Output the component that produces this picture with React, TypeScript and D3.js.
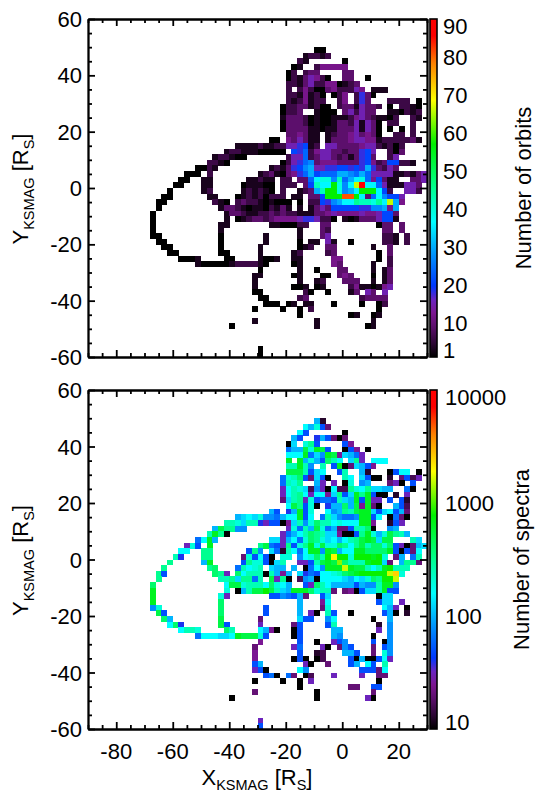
import { useEffect, useRef } from 'react'
import * as d3 from 'd3'

// one string per map row, top (Y=+60) to bottom. "col:codes", one base-36 code per 2 R_S bin
const orbitRows = [
  "", "", "", "", "",
  "40:00",
  "38:12212",
  "37:21 45:0",
  "36:01 40:244444",
  "35:02 38:233 45:33",
  "35:02135420 45:33 49:0",
  "35:2213522440123",
  "35:2 37:242003422254 50:111",
  "35:2214120 43:024 47:263 50:0",
  "35:2124122 44:24 47:263 53:2222 58:0",
  "34:022331200 44:23315332 53:0 55:2210",
  "34:0223 40:1000 45:352533 53:110212",
  "34:133320100111245321102 57:21",
  "34:033320100133251530 53:22 57:2",
  "34:033331101133351530 53:0 55:0 57:2",
  "35:334311 42:1233453430 54:22 57:2",
  "32:00 35:435311 42:13334554412222231",
  "26:111121122556712 42:55333345521202",
  "24:12211100000 36:768245533233675 53:203",
  "22:122100 35:2558235532313673 53:25",
  "21:2210 34:025689344433336742377221",
  "19:0021 32:1213679a556677676a63253",
  "17:000 21:2 30:123103468a7888aa98a85555112135",
  "16:00 20:11 28:11211 34:22 37:338cdd9e8acd847311 57:335",
  "15:00 20:11 27:011100 34:222 38:37eccjd9cmtcc85111553",
  "14:0 20:12 27:121210 34:2 37:123aejjd9acjjjc72 56:552",
  "13:00 21:11 26:012120222 36:11 39:337jjjrrjc38c9775",
  "12:00 22:210 26:2322101000 37:0 39:22769accfeedfcma4",
  "12:0 23:1332101102131 37:1 39:1353777776699a4a",
  "11:0 24:1332112232322111334544445445773",
  "11:0 24:1 26:012332344445665220 45:1013335771",
  "11:0 23:11 32:1100022 41:33 51:033 55:3",
  "11:0 23:1 37:1 41:32 52:33 55:3",
  "11:00 23:0 31:1 37:1 41:35 52:221 56:2",
  "12:00 23:0 31:1 37:0 39:11 42:51 46:0 52:221 56:2",
  "13:00 23:0 30:1 37:012 42:33 50:1 53:3",
  "14:00 23:00 30:1 36:12 42:23 51:0 53:3",
  "16:0001 24:00 30:1001 36:11 43:44 51:0 53:2",
  "19:1000001222210 36:01 43:43 50:1 53:2",
  "30:0 37:1 40:0 44:33 50:1 52:13",
  "29:11 36:01 41:00 44:343 50:0 52:13",
  "29:1 37:1 40:12 45:333 50:1 52:13",
  "29:1 36:001 40:01 46:24110145",
  "29:00 38:20 42:0 46:13 49:53 52:5",
  "30:00 37:23 48:23333",
  "31:000 35:01 38:11 43:0 48:0 51:02",
  "29:0 34:0 37:0 39:2 51:0",
  "37:0 46:01 50:01",
  "29:1 40:1 50:1",
  "25:0 40:1 49:01",
  "", "", "",
  "30:0",
  "30:0",
]

const spectraRows = [
  "", "", "", "", "",
  "40:a1",
  "38:cad73",
  "37:c7 45:0",
  "36:a7 40:6a7303",
  "35:0b 38:df7 45:74",
  "35:8aahdih7 45:074 49:0",
  "35:ccci8b9ih4ba85",
  "35:i 37:iada7gec 46:bf5 50:ccc",
  "35:eeie9 41:e 43:7i03ba74",
  "35:hhhe7bc 44:7e 48:a1 53:07cc 58:0",
  "34:8deg73b70 45:ec 48:b700 53:1 55:3725",
  "34:8edf 40:a5 43:5 45:0d 48:9a 53:350 57:7",
  "34:5cedb2950c22fdcfbbaa 56:80",
  "34:5cefc5cc4bf7bifi700 54:1 56:5",
  "34:3bef5d7887ebai7i55 53:7 55:71",
  "35:chf7d0 42:6aagah4i30 54:a72",
  "32:a7 35:6ai7d 42:c9afehiib7bc7a3",
  "26:abcbd998acci7c 41:8eb9889ii7c 53:0830",
  "24:eedbee657704be9dgeecdcccii4 53:175",
  "22:ahff99 35:5d8eahd8a337eeg0 53:9a",
  "21:eif0 34:58acegfebb4007fidadhfea",
  "19:8cia 32:bb5ac8dgfdbcacefhihbhh 57:eb",
  "17:5d7 21:i 30:fh875f7dfidhddgfcfheggdg7503ab",
  "16:cc 20:ff 28:7f9 32:b81ec8cii9ihacciiggggi70 56:73c",
  "15:e6 20:ff 27:3d7c70 34:dd 37:9cdgejnjjdjjjijd 54:3a 57:8e",
  "14:f 20:ai 27:7fdd70be 37:557ehihlgeeeijjb3 55:aff3",
  "13:f 21:fg 26:8ecde 32:baa 36:a 38:08c9iiimihheceijeee",
  "12:f7 22:gf5 26:gceee0ea4a 37:b687ccdeghijjjjjmod",
  "12:f 23:eefbff8e 32:h5f0 37:29a0ccccbacbdgfjjm",
  "11:g 24:chhdeeecgdca 38:75gecaaaa7a99eii9",
  "11:i 24:d 26:0aehhjhebaiiigdee3 45:3407bbei77",
  "11:i 23:d5 32:77987a3 41:7b 51:0bb",
  "11:i 23:g 37:a 41:4c 51:7bb 55:5",
  "11:9d 23:g 31:7 37:a 41:3d 52:ca5 56:0",
  "12:h7 23:g 31:7 37:a 39:50 42:e7 46:0 52:7a0 56:1",
  "13:ga 23:h 30:3 37:b77 42:9c 50:0 53:a",
  "14:cg6 23:h7 30:5 36:37 42:7e 51:1 53:9",
  "16:ceed 24:ge 30:ca40 36:07 43:aa 51:5 53:9",
  "19:8cccbbcihhhd7 36:07 43:a9 50:0 53:9",
  "30:4 37:7 40:0 43:579 50:7 52:09",
  "29:3 36:58 41:50 44:397 50:3 52:79",
  "29:4 37:7 40:12 45:aa7 50:3 52:d9",
  "29:4 36:070 40:02 46:70a007c5",
  "29:7a 38:50 42:3 46:7a 49:c7 52:e",
  "29:570 37:c9 48:7773c",
  "31:780 35:83 38:02 43:5 48:5 51:33",
  "29:0 34:0 37:0 39:5 51:0",
  "37:0 46:33 50:77",
  "29:3 40:0 50:3",
  "25:0 40:0 49:50",
  "", "", "",
  "30:5",
  "30:7",
]

const orbitLabels = [90, 80, 70, 60, 50, 40, 30, 20, 10, 1]
const spectraLabels = [10000, 1000, 100, 10]
const xMajor = [-80, -60, -40, -20, 0, 20]
const yMajor = [60, 40, 20, 0, -20, -40, -60]
const minorStep = 5

// rainbow + black table, picked off the colour bars
const cmapStops = [0, 0.04, 0.09, 0.13, 0.17, 0.21, 0.3, 0.4, 0.5, 0.63, 0.76, 0.87, 0.95, 1]
const cmapColors = ['#000000', '#2c0634', '#5c0f6c', '#7c1690', '#6a24c0', '#0038ff', '#0090ff', '#00ffff', '#00ff90', '#00f000', '#ffff00', '#ff8000', '#ff0000', '#ff0000']

const WIDTH = 537
const HEIGHT = 794
const LEFT = 88
const RIGHT = 427
const BAR_L = 430
const BAR_R = 437
const FONT = '"Liberation Sans", Arial, sans-serif'
const FS = 22
const SUB_FS = 14.5

const cmap = d3.scaleLinear<string>().domain(cmapStops).range(cmapColors).interpolate(d3.interpolateRgb).clamp(true)

// turn the row strings into bins
function decode(rows: string[]) {
  const cells: { col: number; row: number; level: number }[] = []
  rows.forEach((line, row) => {
    line.split(' ').filter(Boolean).forEach((seg) => {
      const [start, codes] = seg.split(':')
      codes.split('').forEach((c, i) => {
        cells.push({ col: +start + i, row, level: parseInt(c, 36) })
      })
    })
  })
  return cells
}

function subLabel(sel: any, main: string, drop: number) {
  sel.append('tspan').text(main)
  sel.append('tspan').attr('font-size', SUB_FS).attr('dy', drop).text('KSMAG')
  sel.append('tspan').attr('dy', -drop).text(' [R')
  sel.append('tspan').attr('font-size', SUB_FS).attr('dy', drop).text('S')
  sel.append('tspan').attr('dy', -drop).text(']')
}

function drawPanel(svg: any, top: number, bottom: number, rows: string[], cfg: any) {
  const x = d3.scaleLinear().domain([-90, 30]).range([LEFT, RIGHT])
  const y = d3.scaleLinear().domain([60, -60]).range([top, bottom])
  const barY = cfg.scale.copy().range([bottom, top])
  const t = cfg.scale.copy().range([0, 1]).clamp(true)

  const g = svg.append('g')
  const binW = x(2) - x(0)
  const binH = y(0) - y(2)

  g.append('g')
    .attr('shape-rendering', 'crispEdges')
    .selectAll('rect')
    .data(decode(rows))
    .join('rect')
    .attr('x', (d: any) => x(-90 + 2 * d.col))
    .attr('y', (d: any) => y(60 - 2 * d.row))
    .attr('width', binW + 0.3)
    .attr('height', binH + 0.3)
    .attr('fill', (d: any) => cmap(t(cfg.value(d.level))))

  // axes, ticks point inward on all four sides
  const xMinor = d3.range(-90, 31, minorStep).filter((v) => !xMajor.includes(v))
  const yMinor = d3.range(-60, 61, minorStep).filter((v) => !yMajor.includes(v))
  const axes = [
    { gen: d3.axisBottom(x), at: `translate(0,${bottom})`, vals: [xMajor, xMinor] },
    { gen: d3.axisTop(x), at: `translate(0,${top})`, vals: [xMajor, xMinor] },
    { gen: d3.axisLeft(y), at: `translate(${LEFT},0)`, vals: [yMajor, yMinor] },
    { gen: d3.axisRight(y), at: `translate(${RIGHT},0)`, vals: [yMajor, yMinor] },
  ]
  axes.forEach(({ gen, at, vals }) => {
    vals.forEach((v, i) => {
      g.append('g')
        .attr('transform', at)
        .call(gen.tickValues(v).tickSize(i === 0 ? -7 : -4).tickFormat(() => '').tickSizeOuter(0))
        .call((a: any) => a.selectAll('line,path').attr('stroke', '#000').attr('stroke-width', 1.8))
    })
  })

  // labels
  const text = g.append('g').attr('font-family', FONT).attr('font-size', FS).attr('fill', '#000')
  yMajor.forEach((v) => {
    text.append('text').attr('x', 82).attr('y', y(v) + 8).attr('text-anchor', 'end').text(v)
  })
  if (cfg.showX) {
    xMajor.forEach((v) => {
      text.append('text').attr('x', x(v)).attr('y', bottom + 30).attr('text-anchor', 'middle').text(v)
    })
    const xt = text.append('text').attr('x', 257).attr('y', bottom + 56).attr('text-anchor', 'middle')
    subLabel(xt, 'X', 4.5)
  }
  const yt = text
    .append('text')
    .attr('transform', `translate(28,${(top + bottom) / 2 + 1}) rotate(-90)`)
    .attr('text-anchor', 'middle')
  subLabel(yt, 'Y', 6)

  // colour bar
  const bar = g.append('g').attr('shape-rendering', 'crispEdges')
  bar
    .selectAll('rect')
    .data(d3.range(top, bottom))
    .join('rect')
    .attr('x', BAR_L)
    .attr('y', (d: number) => d)
    .attr('width', BAR_R - BAR_L)
    .attr('height', 1.2)
    .attr('fill', (d: number) => cmap(t(barY.invert(d + 0.5))))
  g.append('rect')
    .attr('x', BAR_L)
    .attr('y', top)
    .attr('width', BAR_R - BAR_L)
    .attr('height', bottom - top)
    .attr('fill', 'none')
    .attr('stroke', '#000')
    .attr('stroke-width', 1.6)

  cfg.labels.forEach((v: number) => {
    // the end labels get pulled in so they stay inside the bar height
    const py = Math.min(Math.max(barY(v), top + cfg.inset), bottom - cfg.inset)
    text.append('text').attr('x', cfg.labelX).attr('y', py + 8).text(v)
  })
  text
    .append('text')
    .attr('transform', `translate(${cfg.titleX},${(top + bottom) / 2}) rotate(-90)`)
    .attr('text-anchor', 'middle')
    .text(cfg.title)
}

export default function App() {
  const ref = useRef<SVGSVGElement>(null)
  useEffect(() => {
    const svg = d3.select(ref.current)
    svg.selectAll('*').remove()
    drawPanel(svg, 19, 357, orbitRows, {
      scale: d3.scaleLinear().domain([1, 90]),
      value: (l: number) => (l === 0 ? 1 : l * 3),
      labels: orbitLabels,
      labelX: 443,
      inset: 7,
      title: 'Number of orbits',
      titleX: 531,
      showX: false,
    })
    drawPanel(svg, 390, 729, spectraRows, {
      scale: d3.scaleLog().domain([10, 10000]),
      value: (l: number) => Math.pow(10, 1 + l / 10),
      labels: spectraLabels,
      labelX: 445,
      inset: 7,
      title: 'Number of spectra',
      titleX: 529,
      showX: true,
    })
  }, [])
  return (
    <svg
      ref={ref}
      width={WIDTH}
      height={HEIGHT}
      style={{ position: 'absolute', left: 0, top: 0, display: 'block', background: '#fff' }}
    />
  )
}
